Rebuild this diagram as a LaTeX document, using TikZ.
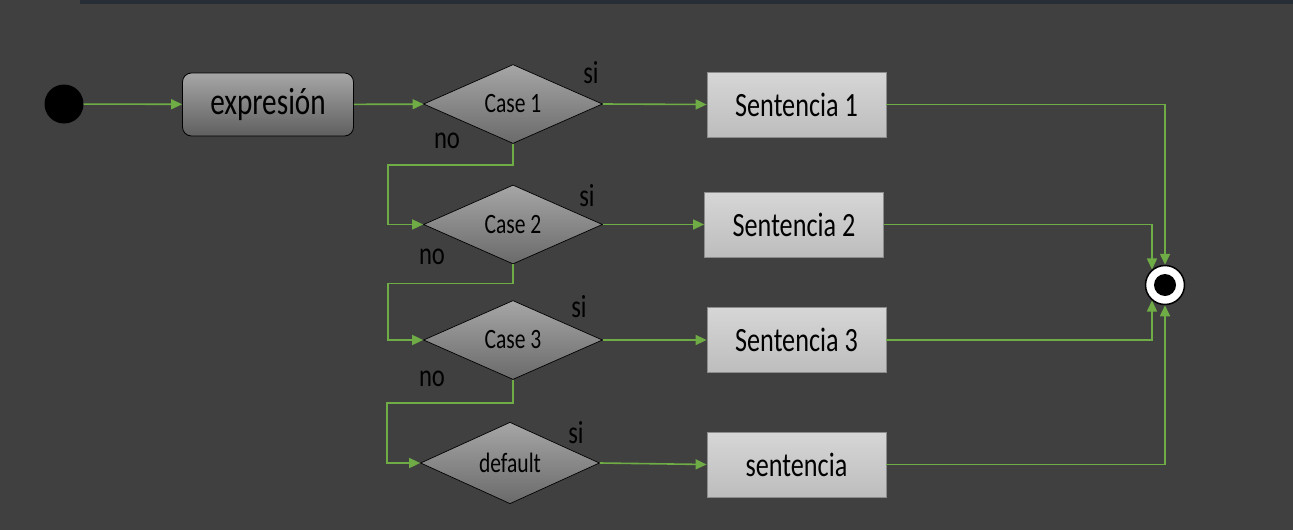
\documentclass[tikz,border=0pt]{standalone}
\usepackage{fontspec}
\setmainfont{Carlito}[FakeStretch=0.77]
\usetikzlibrary{shapes.geometric,arrows.meta}
\definecolor{bgcol}{HTML}{404040}
\definecolor{barcol}{HTML}{272D35}
\definecolor{flow}{HTML}{6FAC46}
\definecolor{diatop}{HTML}{A6A6A6}
\definecolor{diabot}{HTML}{6A6A6A}
\definecolor{sentop}{HTML}{D6D6D6}
\definecolor{senbot}{HTML}{BDBDBD}
\definecolor{senline}{HTML}{8C8C8C}
\tikzset{
  arr/.style={draw=flow, line width=1.6pt, -{Triangle[length=11pt,width=10pt]}},
  decision/.style={diamond, draw=black, line width=0.7pt, top color=diatop, bottom color=diabot,
    minimum width=179pt, minimum height=79pt, inner sep=0pt, font=\fontsize{28}{30}\selectfont},
  sentbox/.style={rectangle, draw=senline, line width=0.8pt, top color=sentop, bottom color=senbot,
    minimum width=179pt, minimum height=65pt, inner sep=2pt, font=\fontsize{34}{36}\selectfont},
  exprbox/.style={rectangle, rounded corners=9pt, draw=black, line width=0.8pt, top color=diatop,
    bottom color=diabot!90!black, minimum width=171pt, minimum height=63pt, inner sep=2pt,
    font=\fontsize{38}{40}\selectfont},
  lbl/.style={font=\fontsize{32}{34}\selectfont, text=black, inner sep=0pt}
}
\begin{document}
\begin{tikzpicture}[x=1pt,y=-1pt]
  \fill[bgcol] (0,0) rectangle (1293,530);
  \fill[barcol] (80,0) rectangle (1293,4);
  % start and end states
  \node[circle, fill=black, minimum size=39pt, inner sep=0pt] (start) at (64,104) {};
  \node[circle, fill=white, draw=black, line width=1.5pt, minimum size=39pt, inner sep=0pt] (stop) at (1165,285) {};
  \node[circle, fill=black, minimum size=22pt, inner sep=0pt] (stopdot) at (stop) {};
  % nodes
  \node[exprbox] (expr) at (268,104.5) {expresión};
  \node[decision] (c1) at (513,104) {Case 1};
  \node[decision] (c2) at (513,224.5) {Case 2};
  \node[decision] (c3) at (513,340) {Case 3};
  \node[decision] (c4) at (510,463) {default};
  \node[sentbox] (s1) at (796.5,104.5) {Sentencia 1};
  \node[sentbox] (s2) at (794,224.5) {Sentencia 2};
  \node[sentbox] (s3) at (796.5,340) {Sentencia 3};
  \node[sentbox] (s4) at (796.5,464.5) {sentencia};
  % labels
  \node[lbl] (si1) at (591,73) {si};
  \node[lbl] (si2) at (587,196) {si};
  \node[lbl] (si3) at (579,307) {si};
  \node[lbl] (si4) at (576,433) {si};
  \node[lbl] (no1) at (447,141) {no};
  \node[lbl] (no2) at (432,257) {no};
  \node[lbl] (no3) at (432,379) {no};
  % connectors
  \draw[arr] (start) -- (expr);
  \draw[arr] (expr) -- (c1);
  \draw[arr] (c1.east) -- (s1.west);
  \draw[arr] (c2.east) -- (s2.west);
  \draw[arr] (c3.east) -- (s3.west);
  \draw[arr] (c4.east) -- (s4.west);
  \draw[arr] (c1.south) -- ++(0,21) -| ([xshift=-35pt]c2.west) -- (c2.west);
  \draw[arr] (c2.south) -- ++(0,19) -| ([xshift=-35pt]c3.west) -- (c3.west);
  \draw[arr] (c3.south) -- ++(0,23) -| ([xshift=-33pt]c4.west) -- (c4.west);
  \draw[arr] (s1.east) -| (stop.north);
  \draw[arr] (s2.east) -| (stop.130);
  \draw[arr] (s3.east) -| (stop.230);
  \draw[arr] (s4.east) -| (stop.south);
\end{tikzpicture}
\end{document}
